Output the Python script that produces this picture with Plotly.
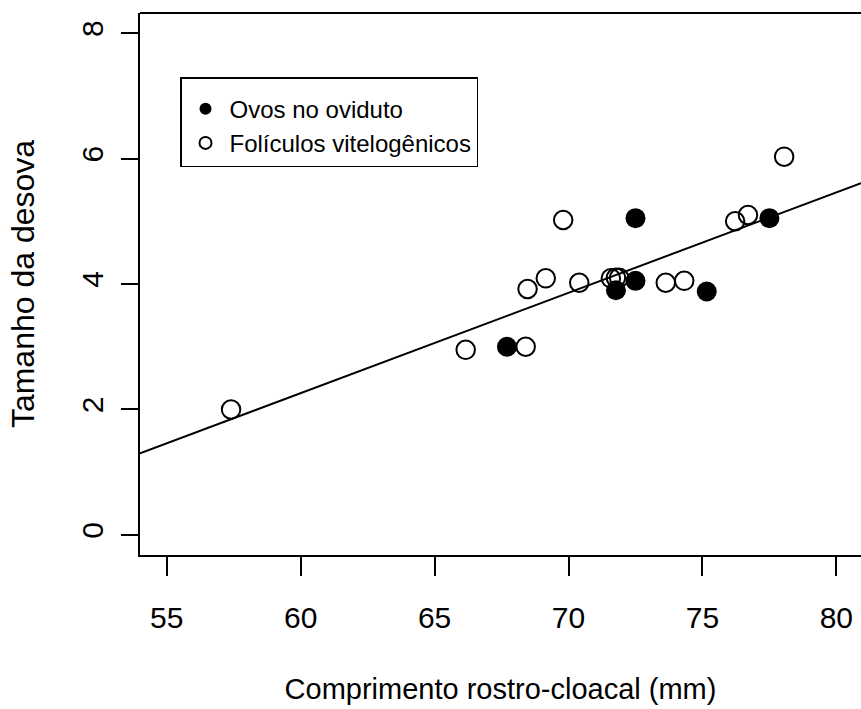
import plotly.graph_objects as go

# Data
ovos_x = [67.7, 71.77, 72.5, 72.5, 75.16, 77.5]
ovos_y = [3.0, 3.9, 4.05, 5.05, 3.88, 5.05]

foliculos_x = [57.4, 66.16, 68.4, 68.47, 69.15, 69.8, 70.4, 71.58, 71.77, 71.89,
               73.63, 74.32, 76.22, 76.7, 78.05]
foliculos_y = [2.0, 2.95, 3.0, 3.92, 4.09, 5.02, 4.02, 4.09, 4.1, 4.1,
               4.02, 4.05, 5.0, 5.1, 6.03]

# Regression line coefficients
intercept = -7.34
slope = 0.160

x_ticks = [55, 60, 65, 70, 75, 80]
y_ticks = [0, 2, 4, 6, 8]
x_range = [54, 80.92]
y_range = [-0.32, 8.32]

FONT = "Liberation Sans, Arial, Helvetica, sans-serif"

fig = go.Figure()

line_x = [x_range[0], x_range[1]]
fig.add_trace(go.Scatter(
    x=line_x, y=[intercept + slope * v for v in line_x],
    mode="lines", line=dict(color="black", width=2),
    showlegend=False, hoverinfo="skip"))

fig.add_trace(go.Scatter(
    x=ovos_x, y=ovos_y, mode="markers", name="Ovos no oviduto",
    marker=dict(symbol="circle", size=20, color="black",
                line=dict(width=0))))

fig.add_trace(go.Scatter(
    x=foliculos_x, y=foliculos_y, mode="markers", name="Folículos vitelogênicos",
    marker=dict(symbol="circle-open", size=18.5, color="black",
                line=dict(width=2, color="black"))))

fig.update_layout(
    width=861, height=709,
    margin=dict(l=140, r=0, t=13, b=154),
    paper_bgcolor="white", plot_bgcolor="white",
    font=dict(family=FONT, size=24, color="black"),
    legend=dict(
        x=0.0555, y=0.8814, xanchor="left", yanchor="top",
        bordercolor="black", borderwidth=1.5, bgcolor="white",
        font=dict(size=24), itemsizing="constant", itemwidth=38,
        title=dict(text=" ", font=dict(size=6))),
    shapes=[dict(type="line", xref="paper", yref="paper",
                 x0=0, x1=1, y0=1, y1=1,
                 line=dict(color="black", width=2))],
)

fig.update_xaxes(
    range=x_range, tickvals=x_ticks, ticktext=[str(v) for v in x_ticks],
    showgrid=False, zeroline=False, showline=True, linecolor="black",
    linewidth=2, ticks="outside", ticklen=19, tickwidth=2, tickcolor="black",
    ticklabelstandoff=16, tickfont=dict(size=30),
    title=dict(text="Comprimento rostro-cloacal (mm)", font=dict(size=29),
               standoff=46))

fig.update_yaxes(
    range=y_range, tickvals=y_ticks, ticktext=[str(v) for v in y_ticks],
    showgrid=False, zeroline=False, showline=True, linecolor="black",
    linewidth=2, ticks="outside", ticklen=17, tickwidth=2, tickcolor="black",
    tickangle=-90, ticklabelstandoff=6, tickfont=dict(size=30),
    title=dict(text="Tamanho da desova", font=dict(size=32), standoff=32))

fig.write_html("out.html")
